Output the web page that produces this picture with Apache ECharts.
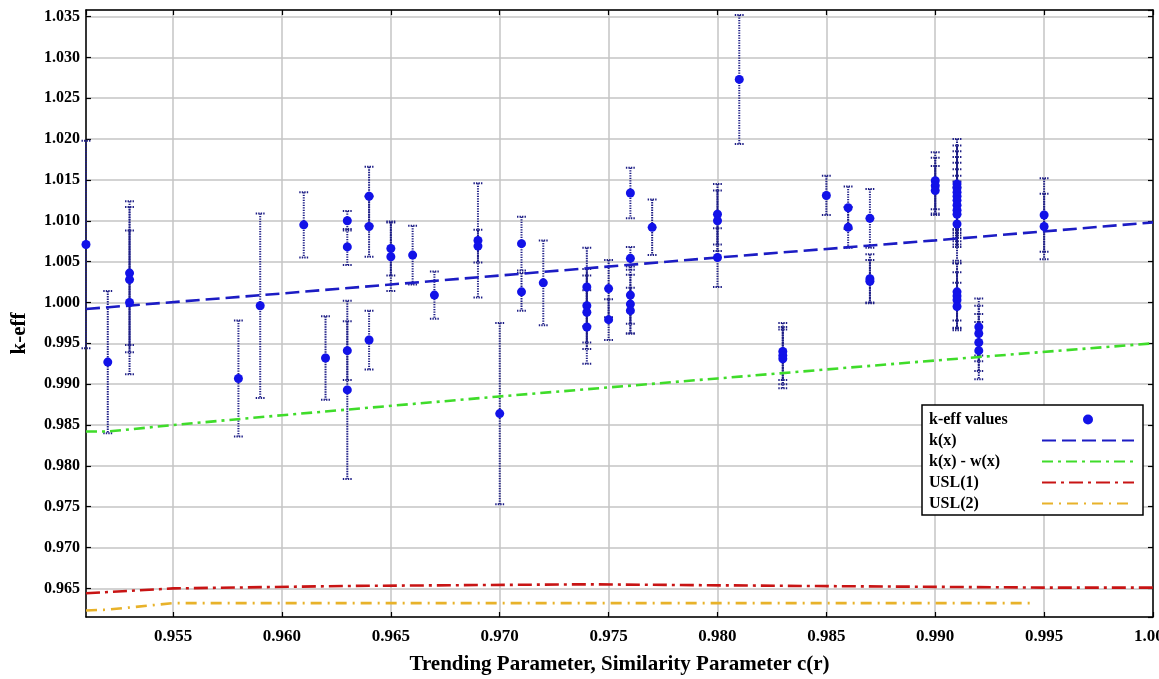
<!DOCTYPE html>
<html>
<head>
<meta charset="utf-8">
<script src="https://cdn.jsdelivr.net/npm/echarts@6/dist/echarts.min.js"></script>
<style>html,body{margin:0;padding:0;background:#fff}#c{width:1159px;height:679px}</style>
</head>
<body>
<div id="c"></div>
<script>
// k-eff measurements: similarity parameter, k-eff value, 1-sigma uncertainty
const ptX = [
  0.951,
  0.952,
  0.953, 0.953, 0.953,
  0.958,
  0.959,
  0.961,
  0.962,
  0.963, 0.963, 0.963, 0.963,
  0.964, 0.964, 0.964,
  0.965, 0.965,
  0.966,
  0.967,
  0.969, 0.969,
  0.970,
  0.971, 0.971,
  0.972,
  0.974, 0.974, 0.974, 0.974,
  0.975, 0.975,
  0.976, 0.976, 0.976, 0.976, 0.976,
  0.977,
  0.980, 0.980, 0.980,
  0.981,
  0.983, 0.983, 0.983,
  0.985,
  0.986, 0.986,
  0.987, 0.987, 0.987,
  0.990, 0.990, 0.990,
  0.991, 0.991, 0.991, 0.991, 0.991, 0.991, 0.991, 0.991, 0.991, 0.991, 0.991, 0.991, 0.991,
  0.992, 0.992, 0.992, 0.992,
  0.995, 0.995
];
const ptY = [
  1.0071,
  0.9927,
  1.0036, 1.0028, 1.0000,
  0.9907,
  0.9996,
  1.0095,
  0.9932,
  1.0100, 1.0068, 0.9941, 0.9893,
  1.0130, 1.0093, 0.9954,
  1.0066, 1.0056,
  1.0058,
  1.0009,
  1.0076, 1.0069,
  0.9864,
  1.0072, 1.0013,
  1.0024,
  1.0019, 0.9996, 0.9988, 0.9970,
  1.0017, 0.9979,
  1.0134, 1.0054, 1.0009, 0.9998, 0.9990,
  1.0092,
  1.0108, 1.0100, 1.0055,
  1.0273,
  0.9940, 0.9935, 0.9931,
  1.0131,
  1.0116, 1.0092,
  1.0103, 1.0029, 1.0026,
  1.0149, 1.0143, 1.0137,
  1.0145, 1.0140, 1.0135, 1.0130, 1.0125, 1.0119, 1.0113, 1.0108, 1.0096, 1.0013, 1.0008, 1.0003, 0.9995,
  0.9970, 0.9962, 0.9951, 0.9941,
  1.0107, 1.0093
];
const ptErr = [
  0.0127,
  0.0087,
  0.0088, 0.0089, 0.0088,
  0.0071,
  0.0113,
  0.0040,
  0.0051,
  0.0012, 0.0022, 0.0036, 0.0109,
  0.0036, 0.0037, 0.0036,
  0.0033, 0.0042,
  0.0036,
  0.0029,
  0.0070, 0.0020,
  0.0111,
  0.0033, 0.0023,
  0.0052,
  0.0048, 0.0045, 0.0045, 0.0045,
  0.0035, 0.0025,
  0.0031, 0.0014, 0.0035, 0.0036, 0.0028,
  0.0034,
  0.0037, 0.0037, 0.0036,
  0.0079,
  0.0035, 0.0035, 0.0036,
  0.0024,
  0.0026, 0.0025,
  0.0036, 0.0030, 0.0026,
  0.0035, 0.0034, 0.0030,
  0.0055, 0.0052, 0.0050, 0.0048, 0.0046, 0.0044, 0.0042, 0.0040, 0.0045, 0.0035, 0.0040, 0.0034, 0.0029,
  0.0035, 0.0034, 0.0035, 0.0035,
  0.0045, 0.0040
];

// trend curves
const kxX  = [0.951, 0.960, 0.970, 0.980, 0.990, 1.000];
const kxY  = [0.9992, 1.0011, 1.0033, 1.0055, 1.0076, 1.0098];
const kwX  = [0.951, 0.952, 0.955, 0.960, 0.970, 0.980, 0.990, 1.000];
const kwY  = [0.9842, 0.9842, 0.9850, 0.9862, 0.9885, 0.9907, 0.9929, 0.9950];
const usl1X = [0.951, 0.955, 0.963, 0.974, 0.984, 0.995, 1.000];
const usl1Y = [0.9644, 0.9650, 0.9653, 0.9655, 0.9653, 0.9651, 0.9651];
const usl2X = [0.951, 0.952, 0.955, 0.9944];
const usl2Y = [0.9623, 0.9624, 0.9632, 0.9632];

const legendNames = ['k-eff values', 'k(x)', 'k(x) - w(x)', 'USL(1)', 'USL(2)'];
const xTitle = 'Trending Parameter, Similarity Parameter c(r)';
const yTitle = 'k-eff';

const SERIF = 'Liberation Serif';
const pts = ptX.map((x, i) => [x, ptY[i]]);
const bars = ptX.map((x, i) => [x, ptY[i] - ptErr[i], ptY[i] + ptErr[i]]);
const pairs = (xs, ys) => xs.map((x, i) => [x, ys[i]]);

const xRange = {min: 0.951, max: 1.0};
const yRange = {min: 0.9615, max: 1.0358};

const chart = echarts.init(document.getElementById('c'), null, {renderer: 'canvas'});

const axisLineStyle = {show: true, lineStyle: {color: '#000', width: 1.5}};
const tickIn = {show: true, inside: true, length: 5, lineStyle: {color: '#000', width: 1.2}};

const lineSeries = (name, data, color, dash, z) => ({
  name, type: 'line', data, symbol: 'none', showSymbol: false, z,
  lineStyle: {color, width: 2.6, type: dash},
  itemStyle: {color}, animation: false, silent: true
});

chart.setOption({
  animation: false,
  backgroundColor: '#fff',
  grid: {left: 86, right: 6, top: 10, bottom: 62, containLabel: false, outerBoundsMode: 'none'},
  xAxis: [{
    type: 'value', min: xRange.min, max: xRange.max,
    minInterval: 0.005, maxInterval: 0.005, splitNumber: 10,
    axisLine: axisLineStyle, axisTick: tickIn,
    axisLabel: {showMinLabel: false, margin: 11, color: '#000', fontFamily: SERIF, fontWeight: 'bold', fontSize: 17,
      formatter: v => v.toFixed(3)},
    splitLine: {show: true, lineStyle: {color: '#c4c4c4', width: 1.5}},
    name: xTitle, nameLocation: 'middle', nameGap: 37,
    nameTextStyle: {color: '#000', fontFamily: SERIF, fontWeight: 'bold', fontSize: 21}
  }, {
    type: 'value', position: 'top', min: xRange.min, max: xRange.max,
    minInterval: 0.005, maxInterval: 0.005, splitNumber: 10,
    axisLine: axisLineStyle, axisTick: tickIn, axisLabel: {show: false}, splitLine: {show: false}
  }],
  yAxis: [{
    type: 'value', min: yRange.min, max: yRange.max,
    minInterval: 0.005, maxInterval: 0.005, splitNumber: 14,
    axisLine: axisLineStyle, axisTick: tickIn,
    axisLabel: {showMinLabel: false, showMaxLabel: false, margin: 6, color: '#000', fontFamily: SERIF, fontWeight: 'bold', fontSize: 16,
      formatter: v => v.toFixed(3)},
    splitLine: {show: true, lineStyle: {color: '#c4c4c4', width: 1.5}},
    name: yTitle, nameLocation: 'middle', nameGap: 56, nameRotate: 90,
    nameTextStyle: {color: '#000', fontFamily: SERIF, fontWeight: 'bold', fontSize: 21, padding: [0, 40, 0, 0]}
  }, {
    type: 'value', position: 'right', min: yRange.min, max: yRange.max,
    minInterval: 0.005, maxInterval: 0.005, splitNumber: 14,
    axisLine: axisLineStyle, axisTick: tickIn, axisLabel: {show: false}, splitLine: {show: false}
  }],
  legend: {
    data: legendNames.map((n, i) => i === 0 ? {name: n} : {name: n, itemStyle: {opacity: 0}}),
    orient: 'vertical', left: 922, top: 405, align: 'right',
    itemWidth: 92, itemHeight: 10, itemGap: 4,
    padding: [6, 8, 3, 7],
    backgroundColor: '#fff', borderColor: '#000', borderWidth: 1.5, borderRadius: 0,
    selectedMode: false,
    formatter: n => '{t|' + n + '}',
    textStyle: {
      fontFamily: SERIF, fontWeight: 'bold', fontSize: 16, color: '#000', lineHeight: 17,
      rich: {t: {width: 108, align: 'left', fontFamily: SERIF, fontWeight: 'bold', fontSize: 16, color: '#000', lineHeight: 17}}
    }
  },
  series: [
    {
      name: 'errbars', type: 'custom', data: bars, z: 3, silent: true,
      renderItem: (params, api) => {
        const x = api.value(0), lo = api.value(1), hi = api.value(2);
        const a = api.coord([x, hi]), b = api.coord([x, lo]);
        const st = {stroke: '#1e1e86', lineWidth: 2, lineDash: [1.4, 1.1], fill: null};
        return {type: 'group', children: [
          {type: 'line', shape: {x1: a[0], y1: a[1], x2: b[0], y2: b[1]}, style: st},
          {type: 'line', shape: {x1: a[0] - 4.5, y1: a[1], x2: a[0] + 4.5, y2: a[1]}, style: st},
          {type: 'line', shape: {x1: b[0] - 4.5, y1: b[1], x2: b[0] + 4.5, y2: b[1]}, style: st}
        ]};
      }
    },
    lineSeries('k(x)', pairs(kxX, kxY), '#1c1cc4', [14, 6], 4),
    lineSeries('k(x) - w(x)', pairs(kwX, kwY), '#3fdc2a', [11, 5, 3, 5], 4),
    lineSeries('USL(1)', pairs(usl1X, usl1Y), '#c81414', [14, 5, 3, 5], 4),
    lineSeries('USL(2)', pairs(usl2X, usl2Y), '#e8b22a', [11, 6, 2, 6], 4),
    {
      name: 'k-eff values', type: 'scatter', data: pts, symbol: 'circle', symbolSize: 9, z: 6,
      itemStyle: {color: '#1212e8', opacity: 1}, silent: true
    }
  ]
});
</script>
</body>
</html>
